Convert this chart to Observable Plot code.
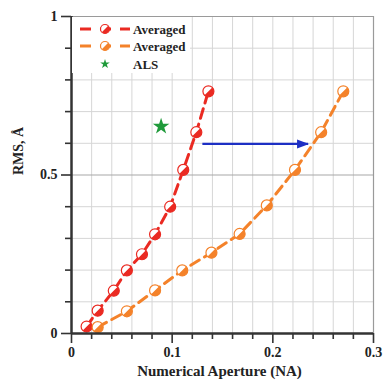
<!DOCTYPE html>
<html><head><meta charset="utf-8">
<script src="https://cdn.jsdelivr.net/npm/d3@7"></script>
<script src="https://cdn.jsdelivr.net/npm/@observablehq/plot@0.6"></script>
<style>
body{margin:0;background:#fff}
#wrap{position:relative;width:383px;height:381px}
#legend{position:absolute;left:72px;top:17px}
</style>
</head><body><div id="wrap"></div>
<script>
// Data
const redNA    = [0.015, 0.026, 0.042, 0.055, 0.070, 0.083, 0.098, 0.111, 0.124, 0.136];
const redRMS   = [0.022, 0.072, 0.135, 0.199, 0.250, 0.313, 0.400, 0.516, 0.635, 0.764];
const orangeNA = [0.026, 0.055, 0.083, 0.110, 0.139, 0.167, 0.194, 0.222, 0.248, 0.270];
const orangeRMS= [0.020, 0.070, 0.136, 0.199, 0.255, 0.314, 0.404, 0.516, 0.635, 0.764];
const alsNA    = [0.089];
const alsRMS   = [0.653];
const arrowFromNA = [0.130];
const arrowToNA   = [0.235];
const arrowRMS    = [0.598];
const seriesNames = ["Averaged", "Averaged", "ALS"];
const xTicks  = [0, 0.1, 0.2, 0.3];
const xLabels = ["0", "0.1", "0.2", "0.3"];
const yTicks  = [0, 0.5, 1];
const yLabels = ["0", "0.5", "1"];
const xMinor  = [0.02,0.04,0.06,0.08,0.12,0.14,0.16,0.18,0.22,0.24,0.26,0.28];
const yMinor  = [0.1,0.2,0.3,0.4,0.6,0.7,0.8,0.9];
const xGrid   = [0.02,0.04,0.06,0.08,0.1,0.12,0.14,0.16,0.18,0.2,0.22,0.24,0.26,0.28];
const yGrid   = [0.1,0.2,0.3,0.4,0.6,0.7,0.8,0.9];
const xTitle = "Numerical Aperture (NA)";
const yTitle = "RMS, Å";

const RED = "#ea2a22", ORANGE = "#f4822a", GREEN = "#1f9a3a", BLUE = "#1d2fc4";
const toRows = (xs, ys) => xs.map((x, i) => ({x, y: ys[i]}));
const red = toRows(redNA, redRMS);
const orange = toRows(orangeNA, orangeRMS);
const als = toRows(alsNA, alsRMS);
const arrows = arrowFromNA.map((x1, i) => ({x1, x2: arrowToNA[i], y: arrowRMS[i]}));

const halfFill = {
  draw(ctx, size) {
    const r = Math.sqrt(size / Math.PI);
    const a0 = -Math.PI / 4;
    ctx.moveTo(r * Math.cos(a0), r * Math.sin(a0));
    ctx.arc(0, 0, r, a0, a0 + Math.PI);
    ctx.closePath();
  }
};
// filled arrowhead with its tip at the symbol origin
const arrowHead = {
  draw(ctx, size) {
    ctx.moveTo(1, 0);
    ctx.lineTo(-11, -4.5);
    ctx.lineTo(-11, 4.5);
    ctx.closePath();
  }
};

function seriesMarks(rows, color) {
  return [
    Plot.line(rows, {x: "x", y: "y", stroke: color, strokeWidth: 3, strokeDasharray: "10,6"}),
    Plot.dot(rows, {x: "x", y: "y", r: 5.5, fill: "white", stroke: color, strokeWidth: 1.2}),
    Plot.dot(rows, {x: "x", y: "y", r: 5.5, fill: color, symbol: halfFill})
  ];
}

const chart = Plot.plot({
  width: 383, height: 381,
  marginLeft: 71, marginRight: 10, marginTop: 16, marginBottom: 48,
  x: {domain: [0, 0.3]},
  y: {domain: [0, 1]},
  style: {fontFamily: "'Liberation Serif','Times New Roman',serif", background: "white", overflow: "visible"},
  marks: [
    Plot.ruleX(xGrid, {stroke: "#d6d6d6", strokeWidth: 1}),
    Plot.ruleY(yGrid, {stroke: "#d6d6d6", strokeWidth: 1}),
    Plot.ruleY([0.5], {stroke: "#a8a8a8", strokeWidth: 1.2}),
    Plot.ruleY([1], {stroke: "#9a9a9a", strokeWidth: 1.2}),
    Plot.ruleX([0.3], {stroke: "#9a9a9a", strokeWidth: 1.2}),
    ...seriesMarks(red, RED),
    ...seriesMarks(orange, ORANGE),
    Plot.link(arrows, {x1: "x1", x2: "x2", y1: "y", y2: "y", stroke: BLUE, strokeWidth: 2.2}),
    Plot.dot(arrows, {x: "x2", y: "y", symbol: arrowHead, fill: BLUE}),
    Plot.dot(als, {x: "x", y: "y", symbol: "star", r: 5.2, fill: GREEN}),
    Plot.ruleX([0], {stroke: "#333", strokeWidth: 2.5}),
    Plot.ruleY([0], {stroke: "#333", strokeWidth: 2.5}),
    Plot.axisX(xMinor, {tickSize: 6, tickFormat: () => "", stroke: "#333", strokeWidth: 1.6, label: null}),
    Plot.axisY(yMinor, {tickSize: 6, tickFormat: () => "", stroke: "#333", strokeWidth: 1.6, label: null}),
    Plot.axisX(xTicks, {tickSize: 10, tickPadding: 4, tickFormat: d => xLabels[xTicks.indexOf(d)], stroke: "#333", fill: "#222", strokeWidth: 1.6, fontSize: 14, fontWeight: "bold", label: null}),
    Plot.axisY(yTicks, {tickSize: 10, tickPadding: 4, tickFormat: d => yLabels[yTicks.indexOf(d)], stroke: "#333", fill: "#222", strokeWidth: 1.6, fontSize: 14, fontWeight: "bold", label: null}),
    Plot.text([xTitle], {text: d => d, frameAnchor: "bottom", dy: 42, dx: -3, fontSize: 15, fontWeight: "bold", fill: "#222"}),
    Plot.text([yTitle], {text: d => d, frameAnchor: "left", dx: -53, rotate: -90, fontSize: 14, fontWeight: "bold", fill: "#222"})
  ]
});

const wrap = document.getElementById("wrap");
wrap.appendChild(chart);

// Legend overlay
const legendColors = [RED, ORANGE, GREEN];
const lg = d3.select(wrap).append("svg").attr("id", "legend").attr("width", 118).attr("height", 56);
lg.append("rect").attr("width", 118).attr("height", 56).attr("fill", "white");
const rowsY = [12, 29, 47];
seriesNames.forEach((name, i) => {
  const g = lg.append("g").attr("transform", `translate(0,${rowsY[i]})`);
  const c = legendColors[i];
  if (i < 2) {
    g.append("line").attr("x1", 8).attr("x2", 58).attr("stroke", c).attr("stroke-width", 3).attr("stroke-dasharray", "11,9");
    g.append("path").attr("d", d3.symbol(d3.symbolCircle, 4.5 * 4.5 * Math.PI)()).attr("transform", "translate(33,0)").attr("fill", "white").attr("stroke", c).attr("stroke-width", 1.2);
    g.append("path").attr("d", d3.symbol(halfFill, 4.5 * 4.5 * Math.PI)()).attr("transform", "translate(33,0)").attr("fill", c);
  } else {
    g.append("path").attr("d", d3.symbol(d3.symbolStar, 3 * 3 * Math.PI)()).attr("transform", "translate(33,0)").attr("fill", c);
  }
  g.append("text").attr("x", 61).attr("dy", "0.35em").attr("font-family", "'Liberation Serif','Times New Roman',serif")
    .attr("font-weight", "bold").attr("font-size", 13).attr("fill", "#222").text(name);
});
</script>
</body></html>
